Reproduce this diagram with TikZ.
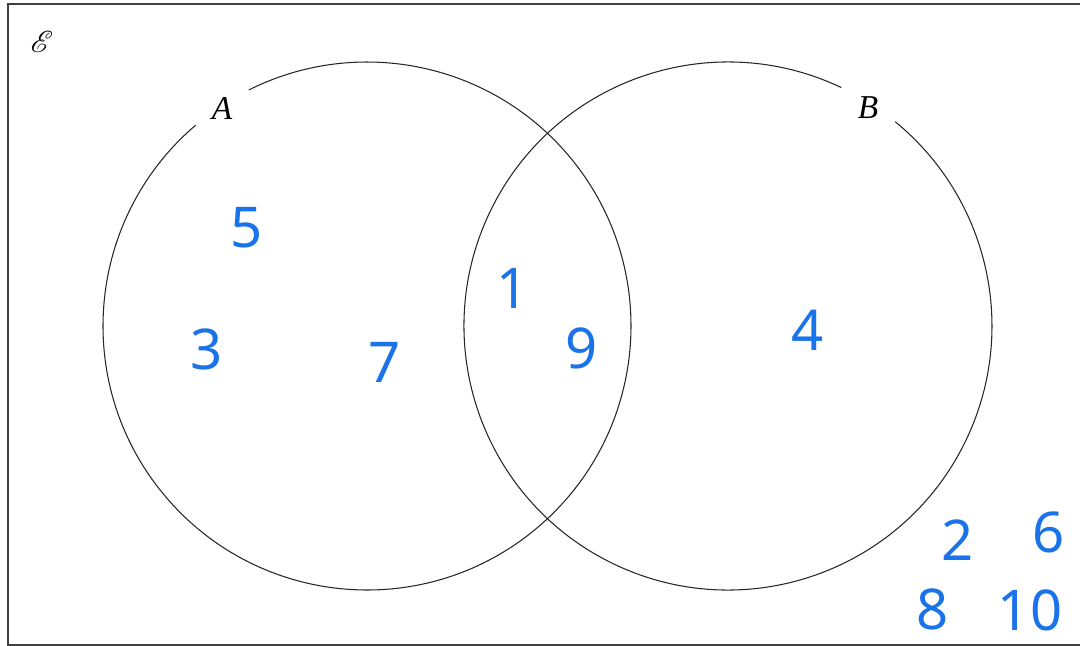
\documentclass[tikz,border=0pt]{standalone}
\usepackage{fontspec}
\setmainfont{Liberation Serif}
\newfontfamily\handfont{Noto Sans}
\usepackage{mathrsfs}
\usetikzlibrary{positioning}
\definecolor{penblue}{RGB}{26,115,232}

\begin{document}
\begin{tikzpicture}[x=0.02cm,y=0.02cm,
    venn/.style={draw=black!85,line width=0.6pt},
    frame/.style={draw=black!75,line width=0.9pt},
    setlab/.style={inner sep=0pt,font=\fontsize{19}{19}\selectfont\itshape},
    elem/.style={inner sep=0pt,text=penblue,font=\handfont\fontsize{32}{32}\selectfont}]
  \useasboundingbox (0,0) rectangle (1080,-646);
  \draw[frame] (1080,-4) -- (8,-4) -- (8,-645) -- (1080,-645);
  \node[inner sep=0pt,font=\fontsize{18}{18}\selectfont] (univ) at (42,-42) {$\mathscr{E}$};
  % the two sets, each broken where its letter sits
  \draw[venn] (367,-326) ++(130.5:264) arc[start angle=130.5,end angle=476.6,radius=264];
  \draw[venn] (728,-326) ++(64.6:264) arc[start angle=64.6,end angle=410.7,radius=264];
  \node[setlab] (labA) at (222,-108) {A};
  \node[setlab] (labB) at (868,-108) {B};
  % elements
  \node[elem] (e5) at (247,-228) {5};
  \node[elem] (e3) at (207,-349) {3};
  \node[elem] (e7) at (385,-362) {7};
  \node[elem] (e1) at (513,-288) {1};
  \node[elem] (e9) at (582,-348) {9};
  \node[elem] (e4) at (808,-330) {4};
  \node[elem] (e2) at (958,-540) {2};
  \node[elem] (e6) at (1049,-532) {6};
  \node[elem] (e8) at (933,-609) {8};
  \node[elem] (e10) at (1030,-610) {10};
\end{tikzpicture}
\end{document}
